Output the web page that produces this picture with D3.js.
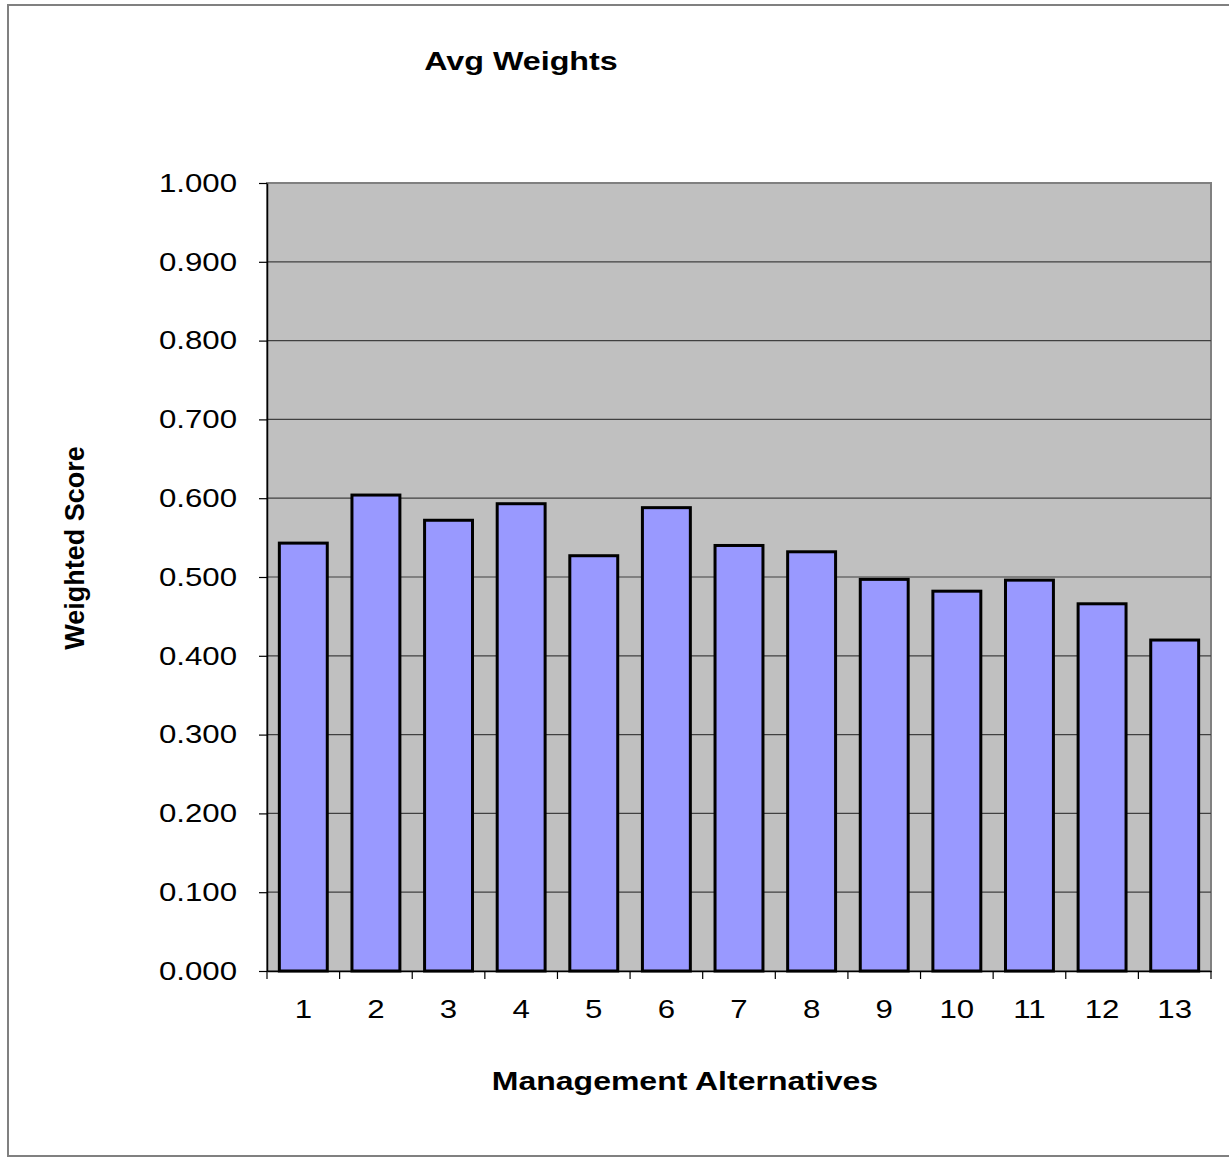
<!DOCTYPE html>
<html>
<head>
<meta charset="utf-8">
<script src="https://cdn.jsdelivr.net/npm/d3@7"></script>
<style>
  body { margin: 0; background: #fff; }
  text { font-family: "Liberation Sans", Arial, sans-serif; }
</style>
</head>
<body>
<div id="chart"></div>
<script>
// data
var alternatives = ["1", "2", "3", "4", "5", "6", "7", "8", "9", "10", "11", "12", "13"];
var avgWeights = [0.543, 0.604, 0.572, 0.593, 0.527, 0.588, 0.540, 0.532, 0.497, 0.482, 0.496, 0.466, 0.420];
var yTicks = [0, 0.1, 0.2, 0.3, 0.4, 0.5, 0.6, 0.7, 0.8, 0.9, 1.0];

var svgWidth = 1229;
var svgHeight = 1157;

// plot area
var margin = { top: 183, right: 18, bottom: 186, left: 267 };
var width = svgWidth - margin.left - margin.right;
var height = svgHeight - margin.top - margin.bottom;

// the original text is drawn wide, so stretch it horizontally
function stretch(sel, factor) {
  sel.each(function() {
    var len = this.getComputedTextLength();
    d3.select(this)
      .attr("textLength", len * factor)
      .attr("lengthAdjust", "spacingAndGlyphs");
  });
}

var svg = d3.select("#chart")
  .append("svg")
  .attr("width", svgWidth)
  .attr("height", svgHeight);

// outer chart border
svg.append("rect")
  .attr("x", 8)
  .attr("y", 5)
  .attr("width", svgWidth)
  .attr("height", 1151)
  .attr("fill", "none")
  .attr("stroke", "#808080")
  .attr("stroke-width", 2);

var chartGroup = svg.append("g")
  .attr("transform", `translate(${margin.left}, ${margin.top})`);

var xScale = d3.scaleBand()
  .domain(alternatives)
  .range([0, width])
  .paddingInner(0.34)
  .paddingOuter(0.17);

var yScale = d3.scaleLinear()
  .domain([0, 1])
  .range([height, 0]);

// grey plot background
chartGroup.append("rect")
  .attr("width", width)
  .attr("height", height)
  .attr("fill", "#c0c0c0")
  .attr("stroke", "#808080")
  .attr("stroke-width", 2);

// gridlines
chartGroup.selectAll(".grid")
  .data(yTicks.slice(1, -1))
  .enter()
  .append("line")
  .attr("x1", 0)
  .attr("x2", width)
  .attr("y1", d => yScale(d))
  .attr("y2", d => yScale(d))
  .attr("stroke", "#404040")
  .attr("stroke-width", 1.2);

// bars
chartGroup.selectAll(".bar")
  .data(avgWeights)
  .enter()
  .append("rect")
  .attr("x", (d, i) => xScale(alternatives[i]))
  .attr("y", d => yScale(d))
  .attr("width", xScale.bandwidth())
  .attr("height", d => height - yScale(d))
  .attr("fill", "#9999ff")
  .attr("stroke", "#000")
  .attr("stroke-width", 3);

// y axis
var leftAxis = d3.axisLeft(yScale)
  .tickValues(yTicks)
  .tickFormat(d3.format(".3f"))
  .tickSizeInner(8)
  .tickSizeOuter(0)
  .tickPadding(22);

var yAxis = chartGroup.append("g").call(leftAxis);
yAxis.select(".domain").attr("stroke", "#000").attr("stroke-width", 1.5);
yAxis.selectAll(".tick line").attr("stroke", "#000").attr("stroke-width", 1.2);
yAxis.selectAll("text")
  .attr("font-size", "26px")
  .attr("fill", "#000")
  .style("font-family", "Liberation Sans, Arial, sans-serif")
  .call(stretch, 1.2);

// x axis: ticks sit on band boundaries
var bottomAxis = d3.axisBottom(xScale)
  .tickSize(0)
  .tickPadding(29);

var xAxis = chartGroup.append("g")
  .attr("transform", `translate(0, ${height})`)
  .call(bottomAxis);
xAxis.select(".domain").attr("stroke", "#000").attr("stroke-width", 1.5);
xAxis.selectAll("text")
  .attr("font-size", "26px")
  .attr("fill", "#000")
  .style("font-family", "Liberation Sans, Arial, sans-serif")
  .call(stretch, 1.2);

var step = xScale.step();
var boundaries = d3.range(alternatives.length + 1).map(i => i * step);
chartGroup.selectAll(".xtick")
  .data(boundaries)
  .enter()
  .append("line")
  .attr("x1", d => d)
  .attr("x2", d => d)
  .attr("y1", height)
  .attr("y2", height + 8)
  .attr("stroke", "#000")
  .attr("stroke-width", 1.2);

// title
svg.append("text")
  .attr("x", 521)
  .attr("y", 70)
  .attr("text-anchor", "middle")
  .attr("font-size", "26px")
  .attr("font-weight", "bold")
  .text("Avg Weights")
  .call(stretch, 1.24);

// axis titles
svg.append("text")
  .attr("x", 685)
  .attr("y", 1090)
  .attr("text-anchor", "middle")
  .attr("font-size", "26px")
  .attr("font-weight", "bold")
  .text("Management Alternatives")
  .call(stretch, 1.23);

svg.append("text")
  .attr("transform", "translate(84, 548) rotate(-90)")
  .attr("text-anchor", "middle")
  .attr("font-size", "27px")
  .attr("font-weight", "bold")
  .text("Weighted Score");
</script>
</body>
</html>
